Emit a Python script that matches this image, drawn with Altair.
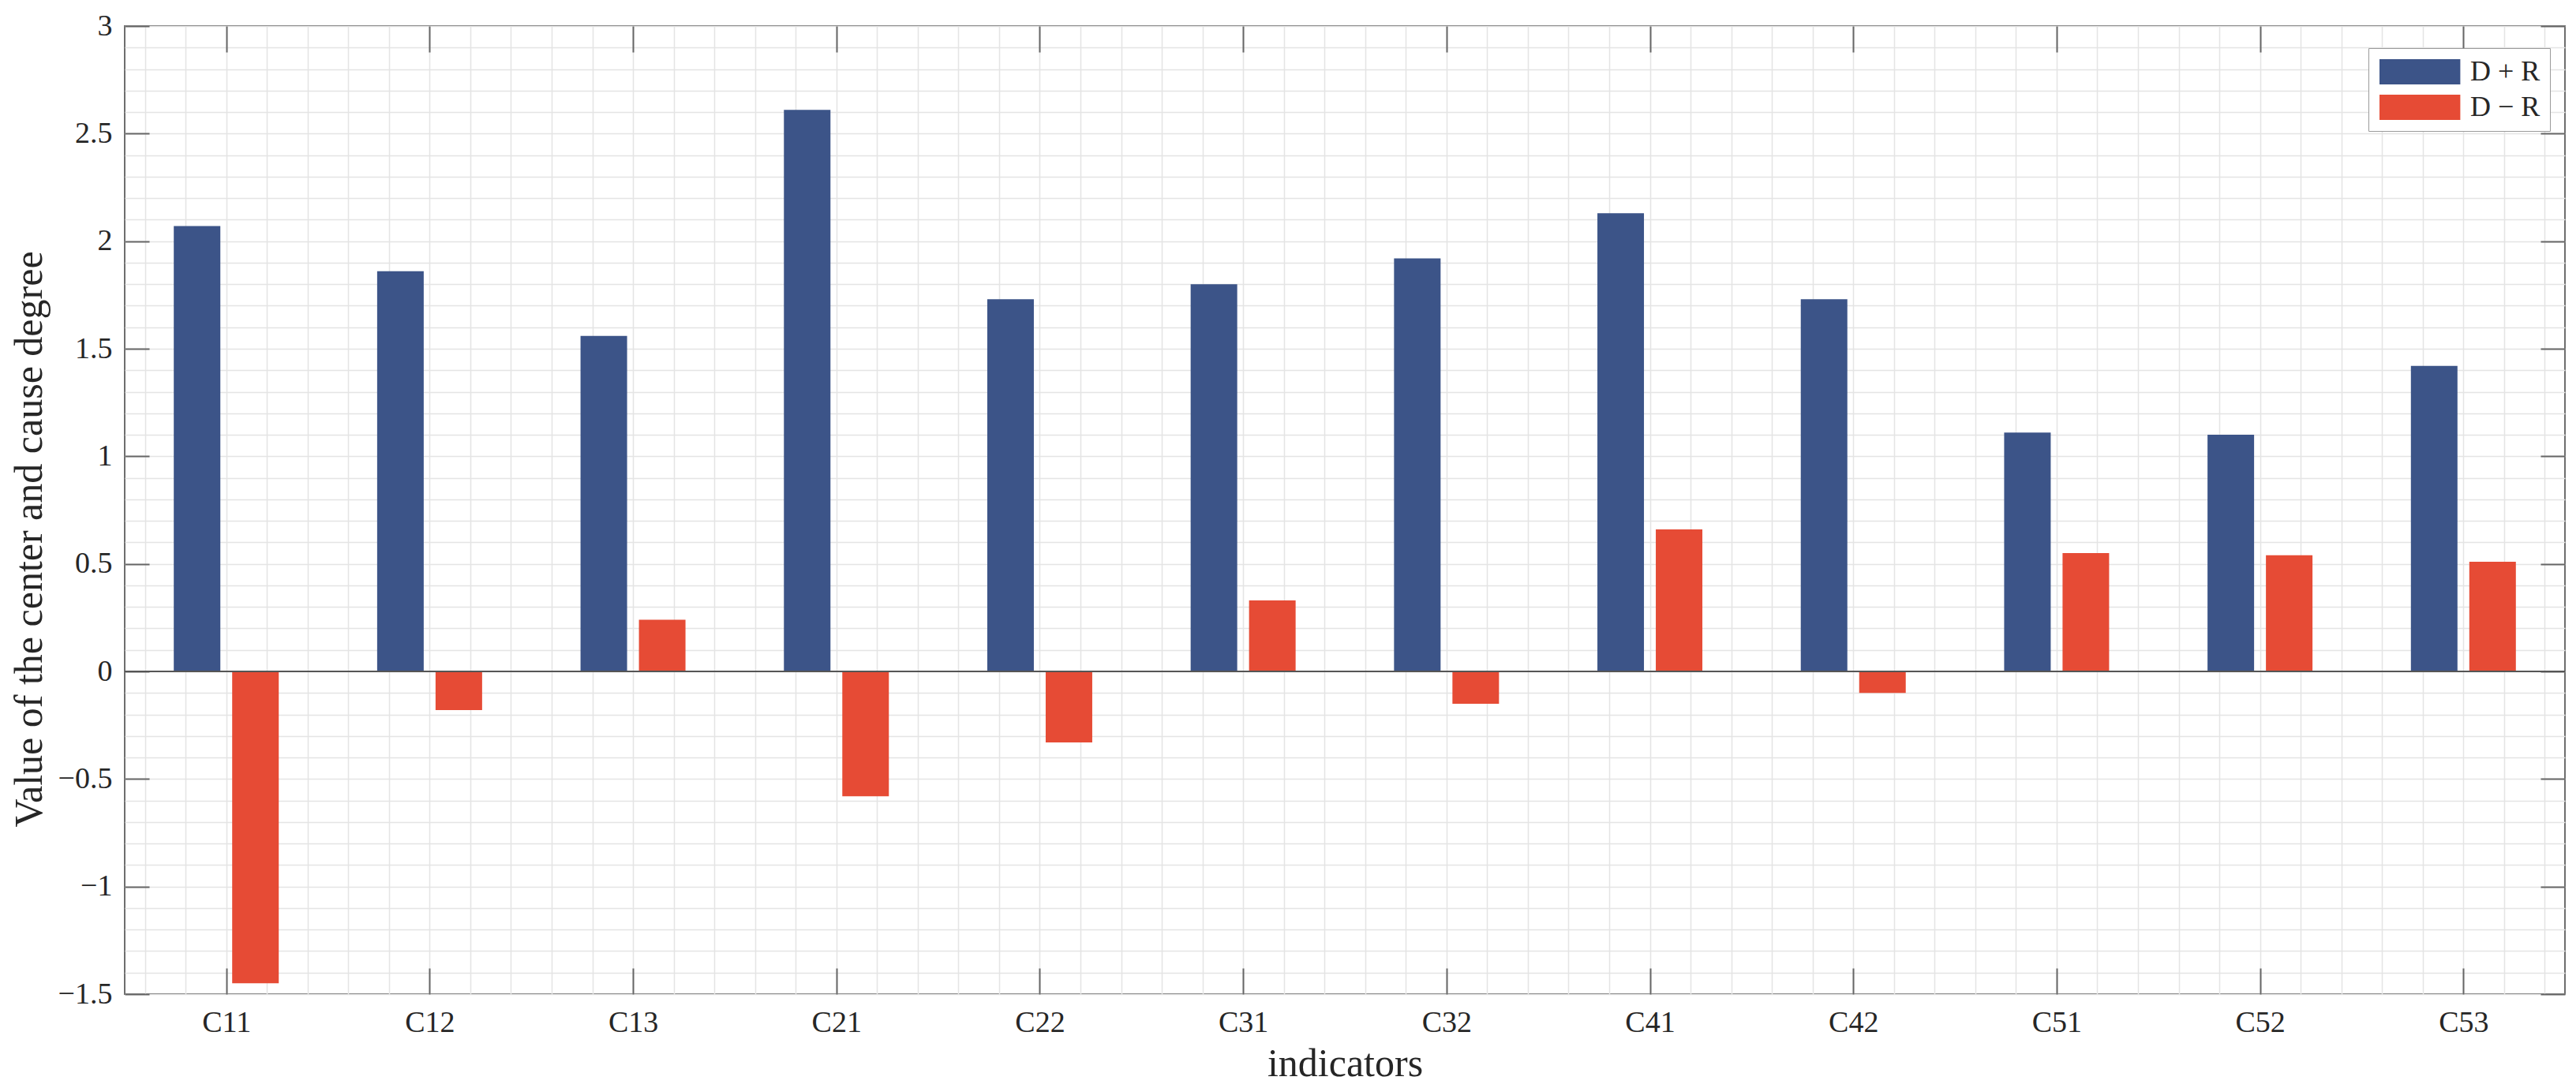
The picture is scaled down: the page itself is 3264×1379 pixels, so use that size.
import json
import altair as alt
import pandas as pd

# ---- data ----
categories = ["C11", "C12", "C13", "C21", "C22", "C31", "C32", "C41", "C42", "C51", "C52", "C53"]
d_plus_r = [2.07, 1.86, 1.56, 2.61, 1.73, 1.80, 1.92, 2.13, 1.73, 1.11, 1.10, 1.42]
d_minus_r = [-1.45, -0.18, 0.24, -0.58, -0.33, 0.33, -0.15, 0.66, -0.10, 0.55, 0.54, 0.51]
series_names = ["D + R", "D \u2212 R"]
series_colors = ["#3C5488", "#E64B35"]
y_major_ticks = [-1.5, -1, -0.5, 0, 0.5, 1, 1.5, 2, 2.5, 3]
baseline = [0]

rows = []
for i, c in enumerate(categories):
    rows.append({"idx": i + 1, "cat": c, "series": series_names[0], "value": d_plus_r[i]})
    rows.append({"idx": i + 1, "cat": c, "series": series_names[1], "value": d_minus_r[i]})
df = pd.DataFrame(rows)
base_df = pd.DataFrame({"b": baseline})

positions = list(range(1, len(categories) + 1))
x_grid = [round(0.6 + 0.2 * k, 1) for k in range(60)]
y_grid = [round(-1.5 + 0.1 * k, 1) for k in range(46)]

FONT = "Liberation Serif"
TXT = "#262626"
AXC = "#666666"
GRID = "#E4E4E4"

xscale = alt.Scale(domain=[0.52, 12.48], nice=False, zero=False)
yscale = alt.Scale(domain=[-1.5, 3], nice=False, zero=False)

int_test = "abs(datum.value - round(datum.value)) < 0.001"
half_test = "abs(datum.value*2 - round(datum.value*2)) < 0.001"

x_axis = alt.Axis(
    values=x_grid, grid=True, gridColor=GRID, gridWidth=1.5, domain=False,
    tickSize=alt.ExprRef(expr="-33"), tickWidth=2, tickColor=AXC,
    tickOpacity={"condition": {"test": int_test, "value": 1}, "value": 0},
    labelExpr=int_test + " ? " + json.dumps(categories) + "[round(datum.value) - 1] : ''",
    labelPadding=50, labelFont=FONT, labelFontSize=38, labelColor=TXT,
    labelOverlap=False, labelFlush=False,
    titleFont=FONT, titleFontSize=50, titleFontWeight="normal", titleColor=TXT,
    titleY=103, titleBaseline="alphabetic",
)
y_axis = alt.Axis(
    values=y_grid, grid=True, gridColor=GRID, gridWidth=1.5, domain=False,
    tickSize=alt.ExprRef(expr="-31"), tickWidth=2, tickColor=AXC,
    tickOpacity={"condition": {"test": half_test, "value": 1}, "value": 0},
    labelExpr=half_test + " ? format(datum.value, '~g') : ''",
    labelPadding=47, labelFont=FONT, labelFontSize=38, labelColor=TXT,
    labelOverlap=False, labelFlush=False,
    titleFont=FONT, titleFontSize=50, titleFontWeight="normal", titleColor=TXT,
    titleX=-106, titleY=650, titleBaseline="alphabetic", titleAlign="center",
)

legend = alt.Legend(
    orient="none", legendX=2843, legendY=28, title=None,
    symbolType="M-1,-1H5.4V1H-1Z", symbolSize=1024, symbolStrokeWidth=0, symbolOpacity=1,
    labelFont=FONT, labelFontSize=36, labelColor=TXT, labelOffset=81,
    rowPadding=9, padding=12, strokeColor="#9A9A9A", fillColor="white",
)
color = alt.Color("series:N", scale=alt.Scale(domain=series_names, range=series_colors), legend=legend)

bars1 = alt.Chart(df).transform_filter(
    alt.datum.series == series_names[0]
).mark_bar(size=59, xOffset=-37).encode(
    x=alt.X("idx:Q", scale=xscale, title="indicators", axis=x_axis),
    y=alt.Y("value:Q", scale=yscale, title="Value of the center and cause degree", axis=y_axis),
    color=color,
)
bars2 = alt.Chart(df).transform_filter(
    alt.datum.series == series_names[1]
).mark_bar(size=59, xOffset=37).encode(
    x=alt.X("idx:Q", scale=xscale, axis=None),
    y=alt.Y("value:Q", scale=yscale, axis=None),
    color=color,
)
zero_line = alt.Chart(base_df).mark_rule(color="#555555", strokeWidth=2).encode(
    y=alt.Y("b:Q", scale=yscale, axis=None)
)
frame_axes = alt.Chart(df).mark_point(opacity=0).encode(
    x=alt.X("idx:Q", scale=xscale, axis=alt.Axis(
        orient="top", values=positions, labels=False, grid=False, domain=False,
        tickSize=alt.ExprRef(expr="-33"), tickWidth=2, tickColor=AXC, title=None)),
    y=alt.Y("value:Q", scale=yscale, axis=alt.Axis(
        orient="right", values=y_major_ticks, labels=False, grid=False, domain=False,
        tickSize=alt.ExprRef(expr="-31"), tickWidth=2, tickColor=AXC, title=None)),
)

chart = alt.layer(bars1, bars2, zero_line, frame_axes).resolve_axis(
    x="independent", y="independent"
).properties(
    width=3092, height=1227,
    autosize=alt.AutoSizeParams(type="none"),
    padding={"left": 150, "top": 25, "right": 6, "bottom": 118},
).configure(background="white").configure_view(stroke="#6E6E6E", strokeWidth=2)

chart.save("out.html", embed_options={"renderer": "svg", "actions": False})
